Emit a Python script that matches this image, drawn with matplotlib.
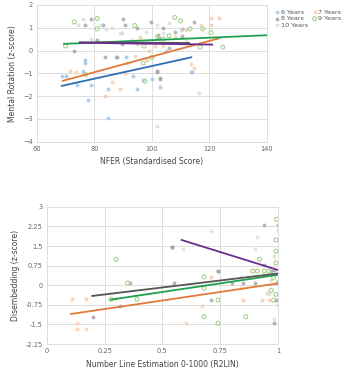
import numpy as np
import matplotlib.pyplot as plt

# ---- top chart: NFER vs Mental Rotation ----
nfer_6 = [68.7, 70, 74, 75.9, 76.8, 76.8, 77.7, 78.9, 84.8, 84.8, 87.6, 91, 93.6, 94.8, 100, 97, 102.7, 113.7, 113.9, 105]
mr_6 = [-1.1, -1.1, -1.5, -0.9, -0.55, -0.4, -2.15, -1.5, -1.7, -2.95, -0.3, -0.3, -1.1, -1.7, -1.25, -1.3, -1.58, -0.93, -0.93, 0.0]

nfer_7 = [71.6, 83.8, 89, 86, 90.7, 91.5, 94, 96, 98.5, 99, 101, 89.6, 73.5, 120.6, 123.5, 120.6, 113.6, 114.5, 108, 112, 104, 117]
mr_7 = [-0.9, -2.0, -1.7, -1.4, -1.0, -0.55, -0.25, 0.6, -0.4, 0.0, 0.2, 0.75, -0.95, 1.41, 1.41, 1.12, -0.6, -0.78, 0.6, 0.9, 0.2, 1.1]

nfer_8 = [79, 89.9, 76.8, 83, 90.8, 94.8, 99.8, 102, 102.5, 89.6, 81, 73, 83.8, 87.8, 101.7, 103, 114.7, 110.4, 110.4, 101.7, 102.9, 104, 108, 106]
mr_8 = [1.4, 1.4, 1.1, 1.1, 1.1, 1.0, 1.25, 0.7, 0.55, 0.3, 0.45, 0.0, -0.3, -0.3, -0.9, -1.2, 1.27, 0.95, 0.65, -0.93, -1.25, 1.0, 0.8, 0.1]

nfer_9 = [73, 81, 81, 70, 94, 97.3, 97.6, 77, 97, 100, 113.3, 117.7, 120.6, 124.7, 116.8, 108, 110, 104, 106, 102]
mr_9 = [1.25, 1.4, 0.95, 0.2, 1.1, 0.2, -1.35, -1.05, -0.55, -0.3, 0.95, 0.95, 0.79, 0.15, 0.15, 1.45, 1.3, 0.5, 0.65, 0.6]

nfer_10 = [76, 74.5, 82, 84, 89, 93, 98, 101.7, 116.5, 101.7, 106, 110, 95, 86, 79, 104, 112]
mr_10 = [1.4, 1.1, 1.1, 0.95, 0.75, 0.45, 0.8, 1.1, -1.87, -3.3, 1.2, 0.9, 0.3, 1.0, 0.5, 0.75, 0.4]

# trendline end points (x0, x1), (y0, y1)
trend_top = {
    "6": ([68.7, 113.7], [-1.55, -0.3]),
    "7": ([69, 123.5], [-1.33, 0.54]),
    "8": ([75, 113], [0.36, 0.33]),
    "9": ([69.5, 140], [0.29, 0.67]),
    "10": ([75, 121], [0.34, 0.26]),
}

# ---- bottom chart: number line vs disembedding ----
nle_7 = [0.108, 0.17, 0.13, 0.13, 0.17, 0.295, 0.6, 0.67, 0.71, 0.85, 0.93, 0.96, 0.99, 0.84, 0.99, 0.97, 0.95]
dis_7 = [-0.54, -0.54, -1.44, -1.66, -1.66, -0.54, -1.46, -0.8, 0.32, -0.57, -0.57, -0.57, -0.57, -0.12, 0.1, 0.2, -0.3]

nle_8 = [0.2, 0.316, 0.36, 0.54, 0.55, 0.54, 0.74, 0.74, 0.71, 0.8, 0.85, 0.9, 0.94, 0.98, 0.94, 1.0, 0.98, 0.99, 0.97]
dis_8 = [-1.2, -0.8, 0.09, 1.45, 0.09, 1.45, 0.54, 0.54, -0.57, 0.09, 0.09, 0.09, 2.31, -1.46, 0.77, 2.31, 0.6, -0.57, 0.54]

nle_9 = [0.3, 0.35, 0.278, 0.39, 0.993, 0.99, 0.99, 0.92, 0.89, 0.91, 0.94, 0.96, 0.68, 0.68, 0.74, 0.68, 0.86, 0.74, 0.99, 0.98, 1.0, 0.97, 0.99, 0.98]
dis_9 = [0.99, 0.09, -0.54, -0.54, 2.52, 1.73, 1.3, 0.99, 0.54, 0.54, 0.54, 0.54, 0.32, -0.12, -0.57, -1.2, -1.2, -1.46, 0.85, 0.3, 0.1, -0.2, -0.35, -0.57]

nle_10 = [0.71, 0.91, 0.9, 0.59, 1.0, 1.0, 1.0, 0.96, 0.84, 0.98, 0.98]
dis_10 = [2.08, 1.85, 1.4, 1.4, 2.1, 0.9, -0.75, -0.35, 0.3, -1.3, 1.1]

trend_bottom = {
    "7": ([0.105, 1.0], [-1.1, 0.07]),
    "8": ([0.197, 1.0], [-0.41, 0.45]),
    "9": ([0.278, 1.0], [-0.55, 0.4]),
    "10": ([0.583, 1.0], [1.73, 0.58]),
}

marker_col = {"6": "#9DC3E6", "7": "#F8CBAD", "8": "#A3A3A3", "9": "#A9D18E", "10": "#DCDCDC"}
line_col = {"6": "#2E6DB4", "7": "#E07B39", "8": "#555555", "9": "#1FA050", "10": "#6A2C91"}
label_txt = {"6": "6 Years", "7": "7 Years", "8": "8 Years", "9": "9 Years", "10": "10 Years"}

grid_c = "#DDDDDD"
tick_c = "#666666"


def style_axes(ax):
    ax.grid(True, color=grid_c, lw=0.7)
    ax.set_axisbelow(True)
    for s in ax.spines.values():
        s.set_color(grid_c)
        s.set_linewidth(0.7)
    ax.tick_params(length=0, labelsize=4.8, labelcolor=tick_c, pad=3)


def scatter(ax, key, x, y):
    if key == "9":
        return ax.scatter(x, y, s=8, facecolors="none", edgecolors=marker_col[key], lw=0.8,
                          label=label_txt[key], zorder=2)
    return ax.scatter(x, y, s=8, color=marker_col[key], alpha=0.8, lw=0,
                      label=label_txt[key], zorder=2)


fig = plt.figure(figsize=(3.47, 3.76), dpi=100)

ax1 = fig.add_axes([0.106, 0.623, 0.663, 0.364])
handles = {}
handles["6"] = scatter(ax1, "6", nfer_6, mr_6)
handles["7"] = scatter(ax1, "7", nfer_7, mr_7)
handles["8"] = scatter(ax1, "8", nfer_8, mr_8)
handles["9"] = scatter(ax1, "9", nfer_9, mr_9)
handles["10"] = scatter(ax1, "10", nfer_10, mr_10)
for k in ["6", "7", "9", "8", "10"]:
    xs, ys = trend_top[k]
    ax1.plot(xs, ys, color=line_col[k], lw=1.3, zorder=3)
ax1.set_xlim(60, 140)
ax1.set_ylim(-4, 2)
ax1.set_xticks([60, 80, 100, 120, 140])
ax1.set_yticks([-4, -3, -2, -1, 0, 1, 2])
style_axes(ax1)
ax1.set_xlabel("NFER (Standardised Score)", fontsize=5.5, color="#444444", labelpad=4)
ax1.set_ylabel("Mental Rotation (z-score)", fontsize=5.5, color="#444444", labelpad=4)

order = ["6", "8", "10", "7", "9"]
fig.legend([handles[k] for k in order], [label_txt[k] for k in order], ncol=2,
           loc="upper left", bbox_to_anchor=(0.78, 0.985), frameon=False,
           fontsize=4.6, labelcolor="#555555", handletextpad=0.1, columnspacing=0.6,
           labelspacing=0.15, markerscale=1.0, handlelength=0.9, borderpad=0.1)

ax2 = fig.add_axes([0.1346, 0.085, 0.667, 0.365])
scatter(ax2, "7", nle_7, dis_7)
scatter(ax2, "8", nle_8, dis_8)
scatter(ax2, "9", nle_9, dis_9)
scatter(ax2, "10", nle_10, dis_10)
for k in ["7", "9", "8", "10"]:
    xs, ys = trend_bottom[k]
    ax2.plot(xs, ys, color=line_col[k], lw=1.3, zorder=3)
ax2.set_xlim(0, 1)
ax2.set_ylim(-2.25, 3)
ax2.set_xticks([0, 0.25, 0.5, 0.75, 1])
ax2.set_xticklabels(["0", "0.25", "0.5", "0.75", "1"])
ax2.set_yticks([-2.25, -1.5, -0.75, 0, 0.75, 1.5, 2.25, 3])
ax2.set_yticklabels(["-2.25", "-1.5", "-0.75", "0", "0.75", "1.5", "2.25", "3"])
style_axes(ax2)
ax2.set_xlabel("Number Line Estimation 0-1000 (R2LIN)", fontsize=5.5, color="#444444", labelpad=4)
ax2.set_ylabel("Disembedding (z-score)", fontsize=5.5, color="#444444", labelpad=4)

fig.savefig("out.png", dpi=100)
